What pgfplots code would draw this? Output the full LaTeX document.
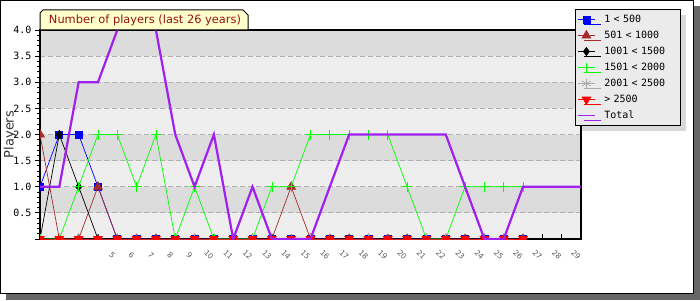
\documentclass[border=0pt]{standalone}
\usepackage{fontspec}
\setmainfont{DejaVu Sans}
\newfontfamily\monofont{DejaVu Sans Mono}
\usepackage{pgfplots}
\pgfplotsset{compat=1.18}
\usetikzlibrary{shadows}
\definecolor{shadowgray}{RGB}{102,102,102}
\definecolor{bandlight}{RGB}{238,238,238}
\definecolor{banddark}{RGB}{220,220,220}
\definecolor{gridgray}{RGB}{176,176,176}
\definecolor{tabfill}{RGB}{255,255,204}
\definecolor{titlered}{RGB}{150,20,20}
\definecolor{legendfill}{RGB}{235,235,235}
\definecolor{legendshadow}{RGB}{217,217,217}
\definecolor{sbrown}{RGB}{165,42,42}
\definecolor{sgreen}{RGB}{0,255,0}
\definecolor{sgray}{RGB}{170,170,170}
\definecolor{sred}{RGB}{255,0,0}
\definecolor{spurple}{RGB}{160,32,240}
\definecolor{ticklabelgray}{RGB}{90,90,90}
\definecolor{labelgray}{RGB}{50,50,50}
\pgfplotsset{
  layers/mylayers/.define layer set={axis background,axis grid,main,axis ticks,axis lines,axis tick labels,axis descriptions,axis foreground}{},
}
\begin{document}
\begin{tikzpicture}[x=1pt,y=1pt]
\begin{axis}[
  set layers=mylayers,
  scale only axis, width=541pt, height=209pt,
  xmin=1, xmax=29, ymin=0, ymax=4,
  clip marker paths=true,
  axis background/.style={fill=bandlight, path picture={
    \fill[banddark] ([yshift=26.125pt]path picture bounding box.south west) rectangle ([yshift=52.25pt]path picture bounding box.south east);
    \fill[banddark] ([yshift=78.375pt]path picture bounding box.south west) rectangle ([yshift=104.5pt]path picture bounding box.south east);
    \fill[banddark] ([yshift=130.625pt]path picture bounding box.south west) rectangle ([yshift=156.75pt]path picture bounding box.south east);
    \fill[banddark] ([yshift=182.875pt]path picture bounding box.south west) rectangle ([yshift=209pt]path picture bounding box.south east);
  }},
  axis line style={line width=1.3pt},
  xtick={1,...,29},
  xticklabels={{},{},{},{},5,6,7,8,9,10,11,12,13,14,15,16,17,18,19,20,21,22,23,24,25,26,27,28,29},
  ytick={0,0.5,1,1.5,2,2.5,3,3.5,4},
  yticklabels={{},0.5,1.0,1.5,2.0,2.5,3.0,3.5,4.0},
  minor y tick num=4,
  xtick pos=bottom, ytick pos=left,
  xtick align=inside, ytick align=outside,
  major tick length=5pt, minor tick length=3pt,
  tick style={black, line width=0.8pt},
  xticklabel style={font=\fontsize{7.5}{8}\selectfont, text=ticklabelgray, inner sep=0pt, yshift=-16pt, xshift=-5pt, rotate=-45, anchor=center},
  yticklabel style={font=\monofont\fontsize{10}{12}\selectfont, text=black},
  ymajorgrids,
  grid style={dash pattern=on 5pt off 3pt, color=gridgray, line width=0.8pt},
  ylabel={Players},
  ylabel style={font=\fontsize{13}{15}\selectfont, text=labelgray, at={(axis description cs:-0.0555,0.5)}, anchor=center},
  legend cell align=left,
  legend style={at={(0.98891,1.10048)}, anchor=north west, fill=legendfill, draw=black, line width=1pt,
    font=\monofont\fontsize{10}{12}\selectfont, inner xsep=2pt, inner ysep=5pt, row sep=6pt, column sep=9pt,
    nodes={inner sep=0pt, text height=7.5pt, text depth=2.5pt, text width=74pt},
    drop shadow={shadow xshift=6pt, shadow yshift=-5pt, fill=legendshadow, opacity=1}},
  legend image code/.code={\draw[mark repeat=2,mark phase=2] plot coordinates {(0pt,0pt) (8.5pt,0pt) (17pt,0pt)};},
]
\coordinate (LL) at (rel axis cs:0,0);
\addplot[color=blue, line width=0.7pt, mark=square*, mark size=3.5pt, mark options={solid}] coordinates {
(1,1) (2,2) (3,2) (4,1) (5,0) (6,0) (7,0) (8,0) (9,0) (10,0) (11,0) (12,0) (13,0) (14,0) (15,0) (16,0) (17,0) (18,0) (19,0) (20,0) (21,0) (22,0) (23,0) (24,0) (25,0) (26,0)};
\addlegendentry{1 < 500}
\addplot[color=sbrown, line width=0.7pt, mark=triangle*, mark size=5pt, mark options={solid}] coordinates {
(1,2) (2,0) (3,0) (4,1) (5,0) (6,0) (7,0) (8,0) (9,0) (10,0) (11,0) (12,0) (13,0) (14,1) (15,0) (16,0) (17,0) (18,0) (19,0) (20,0) (21,0) (22,0) (23,0) (24,0) (25,0) (26,0)};
\addlegendentry{501 < 1000}
\addplot[color=black, line width=0.7pt, mark=diamond*, mark size=4pt, mark options={solid}] coordinates {
(1,0) (2,2) (3,1) (4,0) (5,0) (6,0) (7,0) (8,0) (9,0) (10,0) (11,0) (12,0) (13,0) (14,0) (15,0) (16,0) (17,0) (18,0) (19,0) (20,0) (21,0) (22,0) (23,0) (24,0) (25,0) (26,0)};
\addlegendentry{1001 < 1500}
\addplot[color=sgreen, line width=0.7pt, mark=+, mark size=5pt, mark options={solid}] coordinates {
(1,0) (2,0) (3,1) (4,2) (5,2) (6,1) (7,2) (8,0) (9,1) (10,0) (11,0) (12,0) (13,1) (14,1) (15,2) (16,2) (17,2) (18,2) (19,2) (20,1) (21,0) (22,0) (23,1) (24,1) (25,1) (26,1)};
\addlegendentry{1501 < 2000}
\addplot[color=sgray, line width=0.7pt, mark=asterisk, mark size=5pt, mark options={solid}] coordinates {
(1,0) (2,0) (3,0) (4,0) (5,0) (6,0) (7,0) (8,0) (9,0) (10,0) (11,0) (12,0) (13,0) (14,0) (15,0) (16,0) (17,0) (18,0) (19,0) (20,0) (21,0) (22,0) (23,0) (24,0) (25,0) (26,0)};
\addlegendentry{2001 < 2500}
\addplot[color=sred, line width=0.7pt, mark=triangle*, mark size=5pt, mark options={solid,rotate=180}] coordinates {
(1,0) (2,0) (3,0) (4,0) (5,0) (6,0) (7,0) (8,0) (9,0) (10,0) (11,0) (12,0) (13,0) (14,0) (15,0) (16,0) (17,0) (18,0) (19,0) (20,0) (21,0) (22,0) (23,0) (24,0) (25,0) (26,0)};
\addlegendentry{> 2500}
\addplot[color=spurple, line width=2.2pt, no marks, legend image post style={line width=0.8pt}] coordinates {
(1,1) (2,1) (3,3) (4,3) (5,4) (6,5) (7,4) (8,2) (9,1) (10,2) (11,0) (12,1) (13,0) (14,0) (15,0) (16,1) (17,2) (18,2) (19,2) (20,2) (21,2) (22,2) (23,1) (24,0) (25,0) (26,1) (27,1) (28,1) (29,1)};
\addlegendentry{Total}
\end{axis}
\begin{scope}[shift={(LL)}]
\fill[shadowgray] (654,-61) rectangle (660,233);
\fill[shadowgray] (-34,-61) rectangle (654,-55);
\draw[black,line width=1.5pt] (-39.25,-54.25) rectangle (653.25,238.25);
\filldraw[fill=tabfill, draw=black, line width=1pt] (0,209) -- (0,226) -- (3,229) -- (203,229) -- (208,224) -- (208,209) -- cycle;
\node[text=titlered, font=\fontsize{11.4}{13}\selectfont, inner sep=0pt] at (105,219) {Number of players (last 26 years)};
\end{scope}
\end{tikzpicture}
\end{document}
